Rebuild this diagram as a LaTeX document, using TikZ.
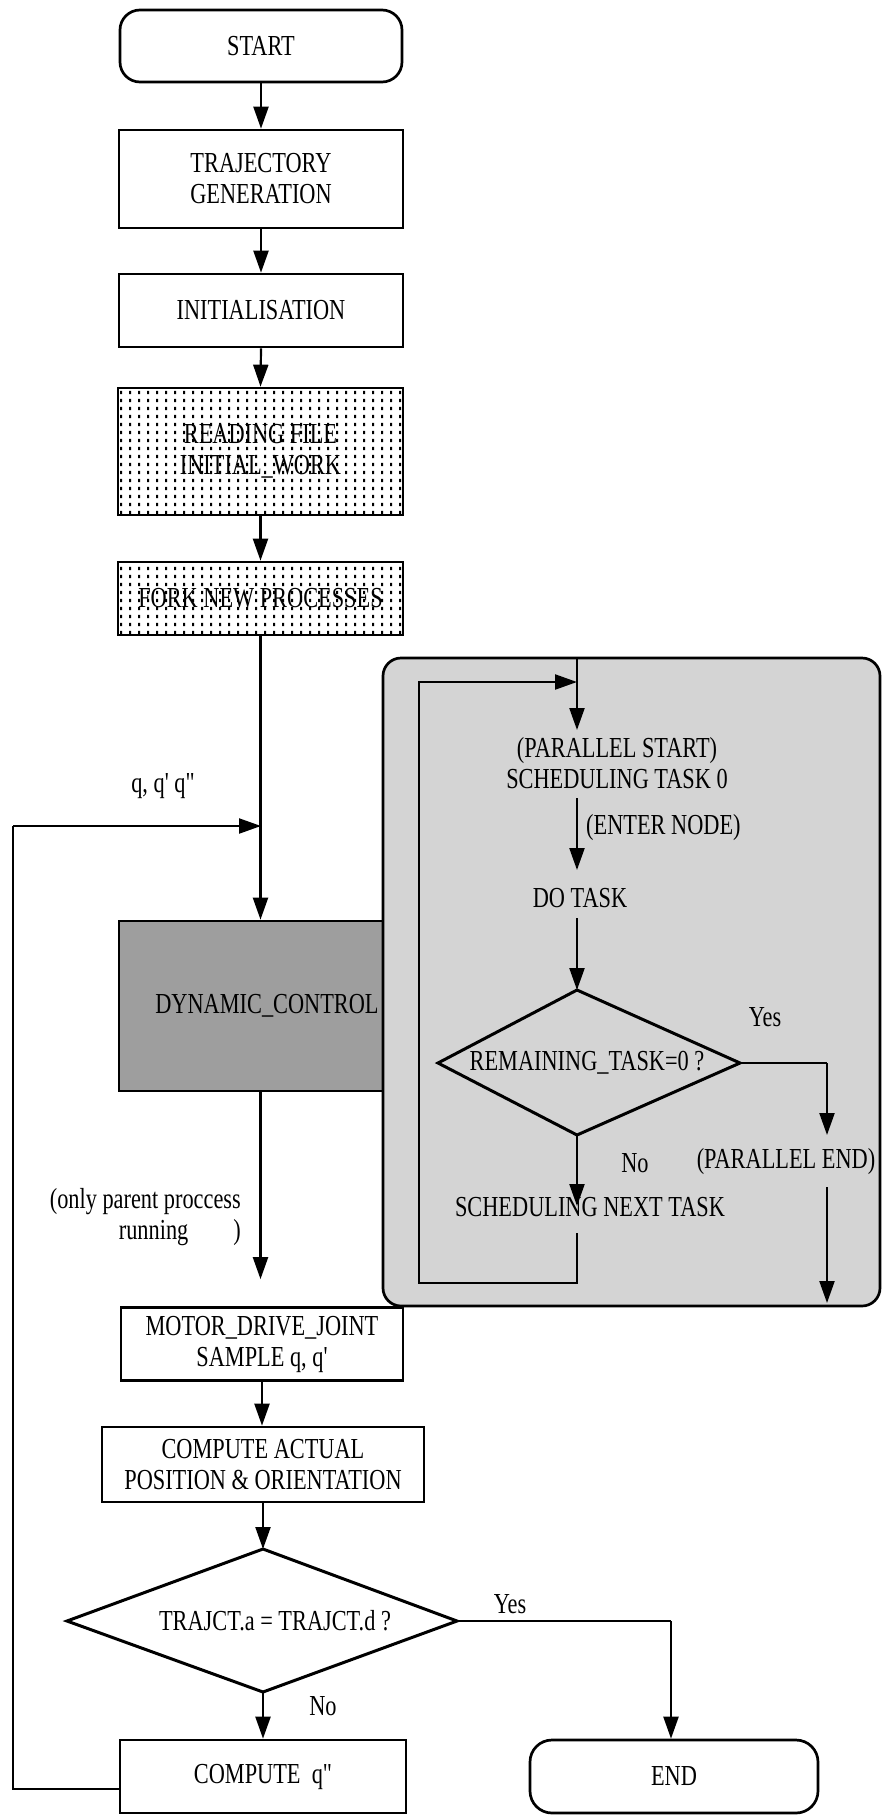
\documentclass[tikz,border=0pt]{standalone}
\usepackage{fontspec}
\newfontfamily\trfont{Liberation Serif}[FakeStretch=0.77]
\usetikzlibrary{arrows.meta,patterns,calc}
\newcommand\tfnt{\trfont\fontsize{29}{31}\selectfont}
\pgfdeclarepatternformonly{vdots}{\pgfqpoint{0pt}{0pt}}{\pgfqpoint{9pt}{8pt}}{\pgfqpoint{9pt}{8pt}}{%
  \pgfpathrectangle{\pgfqpoint{3.5pt}{2pt}}{\pgfqpoint{2.1pt}{3.8pt}}\pgfusepath{fill}}
\tikzset{
  box/.style={draw, line width=2.7pt, inner sep=0pt, align=center, font=\tfnt},
  term/.style={box, rounded corners=20pt},
  dotted box/.style={box, pattern=vdots, pattern color=black},
  lbl/.style={inner sep=0pt, font=\tfnt},
  ln/.style={line width=2.2pt},
  arr/.style={line width=2.2pt, -{Triangle[length=22pt,width=15pt]}},
  dia/.style={line width=3pt, line join=miter},
}
\begin{document}
\begin{tikzpicture}[x=1pt,y=-1pt]
\useasboundingbox (0,0) rectangle (886,1820);
% main column
\node[term, minimum width=282pt, minimum height=72pt] (start) at (261,46) {START};
\node[box, minimum width=284pt, minimum height=98pt] (traj) at (261,179) {TRAJECTORY\\GENERATION};
\node[box, minimum width=284pt, minimum height=73pt] (init) at (261,310.5) {INITIALISATION};
\node[dotted box, minimum width=285pt, minimum height=127pt] (read) at (260.5,451.5) {READING FILE\\INITIAL\_WORK};
\node[dotted box, minimum width=285pt, minimum height=73pt] (fork) at (260.5,598.5) {FORK NEW PROCESSES};
\node[box, fill=black!38, minimum width=296pt, minimum height=170pt] (dyn) at (267,1006) {DYNAMIC\_CONTROL};

\draw[arr] (start.south) -- (traj.north);
\draw[arr] (traj.south) -- (init.north);
\draw[arr] (init.south) -- (read.north);
\draw[arr] (read.south) -- (fork.south |- fork.north);
\draw[arr] (fork.south) -- (fork.south |- dyn.north);

% parallel region
\node[draw, line width=2.7pt, rounded corners=18pt, fill=black!17, inner sep=0pt,
      minimum width=497pt, minimum height=648pt] (par) at (631.5,982) {};
\coordinate (ptop) at (577,658);
\coordinate (pin) at (577,682);
\coordinate (pstartin) at (577,730);
\node[lbl, align=center] (pstart) at (617,763) {(PARALLEL START)\\SCHEDULING TASK 0};
\coordinate (enterout) at (577,798);
\coordinate (enterin) at (577,870);
\node[lbl, anchor=west] (enter) at (586,828) {(ENTER NODE)};
\node[lbl] (dotask) at (580,898) {DO TASK};
\coordinate (doout) at (577,918);
\coordinate (dT) at (577,990);
\coordinate (dR) at (740,1063);
\coordinate (dB) at (577,1135);
\coordinate (dL) at (438,1063);
\draw[dia] (dT) -- (dR) -- (dB) -- (dL) -- cycle;
\node[lbl] (rem) at (587,1063) {REMAINING\_TASK=0 ?};
\node[lbl] (yes1) at (765,1017) {Yes};
\coordinate (ycorner) at (827,1063);
\coordinate (pendin) at (827,1135);
\node[lbl] (pend) at (786,1162) {(PARALLEL END)};
\coordinate (pendout) at (827,1187);
\coordinate (parout) at (827,1303);
\node[lbl] (no1) at (635,1163) {No};
\coordinate (snin) at (577,1206);
\node[lbl] (snext) at (590,1207) {SCHEDULING NEXT TASK};
\coordinate (snout) at (577,1233);
\coordinate (lpcorner) at (419,1283);

\draw[ln] (ptop) -- (pin);
\draw[arr] (pin) -- (pstartin);
\draw[arr] (enterout) -- (enterin);
\draw[arr] (doout) -- (dT);
\draw[ln] (dR) -- (ycorner);
\draw[arr] (ycorner) -- (pendin);
\draw[arr] (pendout) -- (parout);
\draw[arr] (dB) -- (snin);
\draw[arr] (snout) |- (lpcorner) |- (pin);

% lower part
\node[box, minimum width=282pt, minimum height=73pt] (motor) at (262,1344) {MOTOR\_DRIVE\_JOINT\\SAMPLE q, q'};
\node[box, minimum width=322pt, minimum height=75pt] (ca) at (263,1464.5) {COMPUTE ACTUAL\\POSITION \& ORIENTATION};
\coordinate (tT) at (263,1549);
\coordinate (tR) at (457,1621);
\coordinate (tB) at (263,1692);
\coordinate (tL) at (67,1621);
\draw[dia] (tT) -- (tR) -- (tB) -- (tL) -- cycle;
\node[lbl] (traq) at (275,1621) {TRAJCT.a = TRAJCT.d ?};
\node[lbl] (yes2) at (510,1604) {Yes};
\node[lbl] (no2) at (323,1706) {No};
\node[box, minimum width=286pt, minimum height=73pt] (cq) at (263,1776.5) {COMPUTE\ \ q"};
\node[term, rounded corners=22pt, minimum width=288pt, minimum height=73pt] (endn) at (674,1776.5) {END};
\coordinate (tcorner) at (671,1621);
\coordinate (lcorner) at (13,826);
\coordinate (qin) at (261,826);
\node[lbl] (qlab) at (163,786) {q, q' q"};
\node[lbl, align=right, anchor=east] (parent) at (241,1217) {(only parent proccess\\running\hspace{45pt})};

\draw[arr, shorten >=27pt] (fork.south |- dyn.south) -- (fork.south |- motor.north);
\draw[arr] (motor.south) -- (motor.south |- ca.north);
\draw[arr] (ca.south) -- (tT);
\draw[arr] (tB) -- (tB |- cq.north);
\draw[ln] (tR) -- (tcorner);
\draw[arr] (tcorner) -- (tcorner |- endn.north);
\draw[ln] ([yshift=-12.5pt]cq.west) -| (lcorner);
\draw[arr] (lcorner) -- (qin);
\end{tikzpicture}
\end{document}
